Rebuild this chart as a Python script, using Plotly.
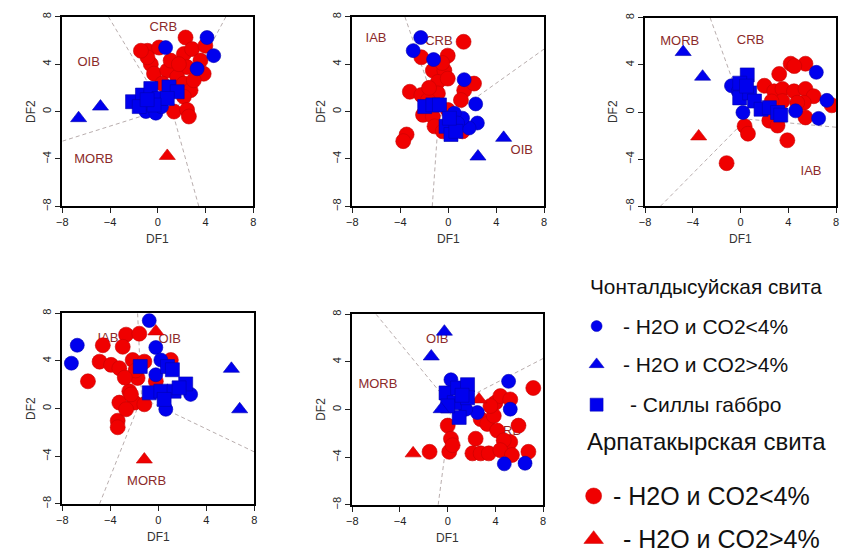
import plotly.graph_objects as go

W, H = 841, 553
RED = "#f00000"
RED_EDGE = "#c80000"
BLUE = "#0000ee"
BLUE_EDGE = "#0000b0"
FIELD_COLOR = "#8b2a2a"
BOUND_COLOR = "#b0a4a4"

# ---------------- Panel 1 ----------------
P1_BLUE_CIRCLES = [(0.65, 5.4), (4.12, 6.25), (4.68, 4.72), (3.29, 3.61), (-1.0, 0.0),
                   (-0.17, -0.14), (-1.15, 0.69), (0.3, 0.4)]
P1_BLUE_TRIANGLES = [(-6.64, -0.56), (-4.81, 0.42)]
P1_BLUE_SQUARES = [(-2.12, 0.83), (-1.29, 1.39), (-0.59, 1.94), (0.1, 1.11), (0.93, 2.08),
                   (1.62, 1.67), (0.79, 1.11), (-0.32, 0.55), (-1.56, 0.42), (-0.9, 1.0)]
P1_RED_CIRCLES = [(-0.87, 5.13), (0.1, 5.4), (-0.59, 4.0), (-0.32, 3.2), (0.79, 3.47),
                  (2.32, 6.25), (2.18, 4.86), (2.87, 5.27), (3.57, 4.3), (3.84, 3.19),
                  (2.45, 3.75), (1.62, 2.92), (2.18, 2.36), (2.74, 1.8), (2.18, 1.25),
                  (1.35, 0.0), (2.45, 0.14), (2.6, -0.42), (0.37, 2.36), (-0.87, 4.58),
                  (-1.42, 5.13), (1.07, 4.3), (1.76, 4.0), (3.01, 2.64), (3.98, 5.55)]
P1_RED_TRIANGLES = [(0.79, -3.75)]
P1_FIELDS = [("CRB", 0.46, 7.08), ("OIB", -5.8, 4.08), ("MORB", -5.37, -4.03)]
P1_BOUNDS = [[(-4.14, 8), (0.5, 0.2)], [(-8, -2.5), (0.5, 0.2)], [(0.5, 0.2), (1.3, -0.3)],
             [(3.43, -8), (1.3, -0.3)], [(5.7, 8), (1.3, -0.3)]]

# ---------------- Panel 2 ----------------
P2_BLUE_CIRCLES = [(-2.29, 6.25), (-2.92, 5.14), (-1.22, 4.39), (1.33, 2.69), (2.29, 0.64),
                   (2.43, -0.97), (1.74, -1.39), (1.19, -0.56), (0.51, -0.14), (0.78, -0.97)]
P2_BLUE_TRIANGLES = [(4.62, -2.22), (2.48, -3.8)]
P2_BLUE_SQUARES = [(-1.96, 0.42), (-1.28, 0.56), (-0.73, 0.56), (-0.18, -1.25),
                   (0.23, -1.94), (0.64, -1.67), (0.1, -0.56)]
P2_RED_CIRCLES = [(1.28, 5.89), (-2.24, 4.58), (-0.04, 4.72), (-1.28, 3.47), (-0.32, 3.47),
                  (-0.86, 2.5), (-0.04, 2.78), (-0.86, 1.53), (-3.2, 1.67), (-2.24, 1.39),
                  (-1.69, 0.97), (-2.1, -0.28), (-1.28, -0.42), (-1.14, -1.25), (-3.47, -1.94),
                  (-3.75, -2.5), (1.33, 1.8), (2.15, 2.36), (1.06, 0.97), (-0.04, 0.14),
                  (1.19, -1.67), (-0.45, -1.67), (-0.5, 4.1), (-1.6, 2.0)]
P2_RED_TRIANGLES = []
P2_FIELDS = [("IAB", -6.02, 6.17), ("CRB", -0.78, 5.89), ("OIB", 6.13, -3.33)]
P2_BOUNDS = [[(-3.61, 8), (-0.8, -0.3)], [(-1.33, -8), (-0.8, -0.3)],
             [(-0.8, -0.3), (0.0, -0.5)], [(8, 5.28), (0.0, -0.5)]]

# ---------------- Panel 3 ----------------
P3_BLUE_CIRCLES = [(6.35, 3.37), (7.23, 0.99), (6.54, -0.54), (4.61, 0.1), (-0.76, 2.23),
                   (0.2, -0.04), (-0.2, 1.76)]
P3_BLUE_TRIANGLES = [(-4.81, 5.09), (-3.18, 3.0)]
P3_BLUE_SQUARES = [(0.56, 3.15), (-0.07, 2.45), (-0.07, 1.2), (0.76, 1.62), (1.17, 0.93),
                   (1.72, 0.24), (2.41, 0.37), (3.1, -0.04), (3.37, -0.26), (0.5, 2.2)]
P3_RED_CIRCLES = [(-1.17, -4.34), (3.92, -2.4), (0.34, -1.2), (0.62, -1.84), (2.41, -0.73),
                  (3.1, -1.15), (3.24, 3.23), (4.2, 4.1), (5.44, 4.1), (2.0, 2.23),
                  (2.82, 1.76), (3.51, 1.96), (4.48, 1.76), (5.44, 1.96), (6.13, 1.34),
                  (5.3, 0.79), (4.75, 0.79), (5.44, -0.46), (7.64, 0.57), (3.51, 0.93),
                  (4.5, 3.9), (2.6, 0.9)]
P3_RED_TRIANGLES = [(-3.51, -2.07)]
P3_FIELDS = [("MORB", -5.1, 6.0), ("CRB", 0.84, 6.06), ("IAB", 5.91, -5.09)]
P3_BOUNDS = [[(-2.55, 8), (0.5, -0.6)], [(-6.72, -8), (0.5, -0.6)], [(8, -1.29), (0.5, -0.6)]]

# ---------------- Panel 4 ----------------
P4_BLUE_CIRCLES = [(-0.76, 7.39), (-6.76, 5.32), (-7.25, 3.81), (-0.21, 5.13), (-0.21, 2.84),
                   (0.62, -0.06), (2.69, 1.19), (0.21, 4.08)]
P4_BLUE_TRIANGLES = [(6.09, 3.34), (6.78, -0.06)]
P4_BLUE_SQUARES = [(-1.51, 3.53), (-0.76, 1.32), (0.21, 1.46), (0.76, 3.53), (1.17, 3.26),
                   (2.28, 2.07), (1.31, 1.46), (0.48, 0.77), (1.73, 1.74)]
P4_RED_CIRCLES = [(-5.87, 2.29), (-4.9, 3.94), (-4.63, 5.32), (-3.94, 3.67), (-3.25, 3.39),
                  (-2.69, 6.21), (-1.59, 6.29), (-2.97, 5.19), (-2.14, 4.08), (-1.17, 3.94),
                  (1.04, 4.08), (-0.21, 2.29), (-1.73, 2.57), (-2.42, 1.46), (-3.25, 0.5),
                  (-2.0, 0.5), (-1.17, 0.36), (-3.39, -1.02), (-3.39, -1.57), (-2.28, 1.19),
                  (-2.69, -0.06), (-1.9, 3.2), (-2.8, 2.6)]
P4_RED_TRIANGLES = [(-0.21, 6.48), (-1.17, -4.28)]
P4_FIELDS = [("IAB", -4.2, 5.88), ("OIB", 0.95, 5.74), ("MORB", -0.98, -6.12)]
P4_BOUNDS = [[(-1.73, 8), (-1.4, 0.9)], [(-4.9, -8), (-1.4, 0.9)], [(8, -3.64), (-1.4, 0.9)]]

# ---------------- Panel 5 ----------------
P5_BLUE_CIRCLES = [(0.27, 2.5), (5.1, 2.37), (5.24, 0.03), (4.74, -4.56), (6.48, -4.51),
                   (2.48, -0.25), (1.51, 0.03)]
P5_BLUE_TRIANGLES = [(-0.28, 6.54), (-1.38, 4.46), (-0.55, 0.03)]
P5_BLUE_SQUARES = [(-0.14, 1.4), (0.83, 1.81), (1.66, 2.09), (0.55, 0.58), (1.66, 0.99),
                   (0.96, -0.66), (0.0, 0.3), (1.2, 1.2)]
P5_RED_CIRCLES = [(7.17, 1.81), (5.93, -1.35), (6.76, -3.55), (5.24, -2.72), (-1.52, -3.55),
                  (0.13, -3.55), (0.0, -1.35), (0.27, -2.45), (0.41, -3.0), (2.34, -2.45),
                  (2.07, -3.68), (2.76, -3.68), (3.44, -3.68), (2.76, -0.8), (3.31, -1.21),
                  (3.86, -0.52), (4.0, 0.58), (4.41, 1.13), (5.24, 0.85), (4.14, -1.76),
                  (4.69, -2.58), (4.41, -3.41), (5.38, -3.82), (3.58, 0.3)]
P5_RED_TRIANGLES = [(-2.9, -3.68), (2.62, 0.85)]
P5_FIELDS = [("OIB", -0.88, 5.88), ("MORB", -5.85, 2.09), ("CRB", 5.0, -1.9)]
P5_BOUNDS = [[(-6.0, 8), (0.3, 0.3)], [(8, 4.29), (0.3, 0.3)], [(-0.8, -8), (0.3, 0.3)]]

AXIS_TICKS = [-8, -4, 0, 4, 8]

# Legend entries
LEGEND_HEAD_1 = "Чонталдысуйская свита"
LEGEND_HEAD_2 = "Арпатакырская свита"
LEGEND_ITEMS_1 = [("circle", "- H2O и CO2<4%"), ("triangle-up", "- H2O и CO2>4%"),
                  ("square", "- Силлы габбро")]
LEGEND_ITEMS_2 = [("circle", "- H2O и CO2<4%"), ("triangle-up", "- H2O и CO2>4%")]

PANELS = [
    dict(bc=P1_BLUE_CIRCLES, bt=P1_BLUE_TRIANGLES, bs=P1_BLUE_SQUARES, rc=P1_RED_CIRCLES,
         rt=P1_RED_TRIANGLES, fields=P1_FIELDS, bounds=P1_BOUNDS, box=(57, 12, 250, 205)),
    dict(bc=P2_BLUE_CIRCLES, bt=P2_BLUE_TRIANGLES, bs=P2_BLUE_SQUARES, rc=P2_RED_CIRCLES,
         rt=P2_RED_TRIANGLES, fields=P2_FIELDS, bounds=P2_BOUNDS, box=(350, 12, 544, 205)),
    dict(bc=P3_BLUE_CIRCLES, bt=P3_BLUE_TRIANGLES, bs=P3_BLUE_SQUARES, rc=P3_RED_CIRCLES,
         rt=P3_RED_TRIANGLES, fields=P3_FIELDS, bounds=P3_BOUNDS, box=(646, 13, 839, 205)),
    dict(bc=P4_BLUE_CIRCLES, bt=P4_BLUE_TRIANGLES, bs=P4_BLUE_SQUARES, rc=P4_RED_CIRCLES,
         rt=P4_RED_TRIANGLES, fields=P4_FIELDS, bounds=P4_BOUNDS, box=(57, 314, 251, 508)),
    dict(bc=P5_BLUE_CIRCLES, bt=P5_BLUE_TRIANGLES, bs=P5_BLUE_SQUARES, rc=P5_RED_CIRCLES,
         rt=P5_RED_TRIANGLES, fields=P5_FIELDS, bounds=P5_BOUNDS, box=(350, 315, 543, 509)),
]

FONT = "Arial, Liberation Sans, sans-serif"

fig = go.Figure()
layout = dict(width=W, height=H, margin=dict(l=0, r=0, t=0, b=0),
              paper_bgcolor="white", plot_bgcolor="white", showlegend=False,
              font=dict(family=FONT, color="#222"))
annotations = []


def xs(pts):
    return [p[0] for p in pts]


def ys(pts):
    return [p[1] for p in pts]


for i, pan in enumerate(PANELS, start=1):
    xa = "x" if i == 1 else f"x{i}"
    ya = "y" if i == 1 else f"y{i}"
    x0, y0, x1, y1 = pan["box"]
    axis_common = dict(range=[-8, 8], tickvals=AXIS_TICKS, ticks="outside", ticklen=5,
                       tickwidth=1, tickcolor="#222", showline=True, linewidth=2,
                       linecolor="black", mirror=True, showgrid=False, zeroline=False,
                       tickfont=dict(size=11, color="#222"), fixedrange=True)
    layout["xaxis" if i == 1 else f"xaxis{i}"] = dict(
        axis_common, domain=[x0 / W, x1 / W], anchor=ya)
    layout["yaxis" if i == 1 else f"yaxis{i}"] = dict(
        axis_common, domain=[1 - y1 / H, 1 - y0 / H], anchor=xa, tickangle=-90)

    # field boundaries
    bx, by = [], []
    for seg in pan["bounds"]:
        bx += [seg[0][0], seg[1][0], None]
        by += [seg[0][1], seg[1][1], None]
    fig.add_trace(go.Scatter(x=bx, y=by, mode="lines", xaxis=xa, yaxis=ya,
                             line=dict(color=BOUND_COLOR, width=0.9, dash="4px,3px")))
    # field names (under the symbols)
    fig.add_trace(go.Scatter(x=[f[1] for f in pan["fields"]], y=[f[2] for f in pan["fields"]],
                             text=[f[0] for f in pan["fields"]], mode="text", xaxis=xa, yaxis=ya,
                             textfont=dict(size=13, color=FIELD_COLOR, family=FONT)))

    groups = [
        (pan["rc"], "circle", 15, RED, RED_EDGE),
        (pan["rt"], "triangle-up", 14, RED, RED_EDGE),
        (pan["bc"], "circle", 14, BLUE, BLUE_EDGE),
        (pan["bs"], "square", 14, BLUE, BLUE_EDGE),
        (pan["bt"], "triangle-up", 14, BLUE, BLUE_EDGE),
    ]
    for pts, sym, size, col, edge in groups:
        if not pts:
            continue
        fig.add_trace(go.Scatter(x=xs(pts), y=ys(pts), mode="markers", xaxis=xa, yaxis=ya,
                                 marker=dict(symbol=sym, size=size, color=col,
                                             line=dict(color=edge, width=0.6))))

    annotations.append(dict(text="DF1", xref=f"{xa} domain", yref=f"{ya} domain", x=0.5, y=0,
                            yshift=-42, showarrow=False, font=dict(size=12, color="#333")))
    annotations.append(dict(text="DF2", xref=f"{xa} domain", yref=f"{ya} domain", x=0, y=0.5,
                            xshift=-41, textangle=-90, showarrow=False,
                            font=dict(size=12, color="#333")))

# Legend block drawn in its own pixel-scaled axis
LX0, LY0 = 560, 263
layout["xaxis6"] = dict(domain=[LX0 / W, 1], range=[LX0, W], visible=False, fixedrange=True,
                        anchor="y6")
layout["yaxis6"] = dict(domain=[0, 1 - LY0 / H], range=[H, LY0], visible=False,
                        fixedrange=True, anchor="x6")

leg_rows_1 = [327, 366, 407]
leg_text_x_1 = [622, 622, 629]
leg_sizes_1 = [11, 13, 13]
for (sym, label), yy, tx, sz in zip(LEGEND_ITEMS_1, leg_rows_1, leg_text_x_1, leg_sizes_1):
    fig.add_trace(go.Scatter(x=[597], y=[yy], mode="markers", xaxis="x6", yaxis="y6",
                             marker=dict(symbol=sym, size=sz, color=BLUE,
                                         line=dict(color=BLUE_EDGE, width=0.5))))
    annotations.append(dict(text=label, xref="x6", yref="y6", x=tx, y=yy, xanchor="left",
                            yanchor="middle", showarrow=False,
                            font=dict(size=21, color="#111", family=FONT)))

leg_rows_2 = [500, 544]
leg_text_x_2 = [612, 622]
leg_sizes_2 = [16, 17]
for (sym, label), yy, tx, sz in zip(LEGEND_ITEMS_2, leg_rows_2, leg_text_x_2, leg_sizes_2):
    fig.add_trace(go.Scatter(x=[594], y=[yy], mode="markers", xaxis="x6", yaxis="y6",
                             marker=dict(symbol=sym, size=sz, color=RED,
                                         line=dict(color=RED_EDGE, width=0.5))))
    annotations.append(dict(text=label, xref="x6", yref="y6", x=tx, y=yy, xanchor="left",
                            yanchor="middle", showarrow=False,
                            font=dict(size=25, color="#111", family=FONT)))

annotations.append(dict(text=LEGEND_HEAD_1, xref="x6", yref="y6", x=588, y=287,
                        xanchor="left", yanchor="middle", showarrow=False,
                        font=dict(size=20.8, color="#111", family=FONT)))
annotations.append(dict(text=LEGEND_HEAD_2, xref="x6", yref="y6", x=585, y=445,
                        xanchor="left", yanchor="middle", showarrow=False,
                        font=dict(size=24, color="#111", family=FONT)))

layout["annotations"] = annotations
fig.update_layout(**layout)
fig.write_html("out.html")
